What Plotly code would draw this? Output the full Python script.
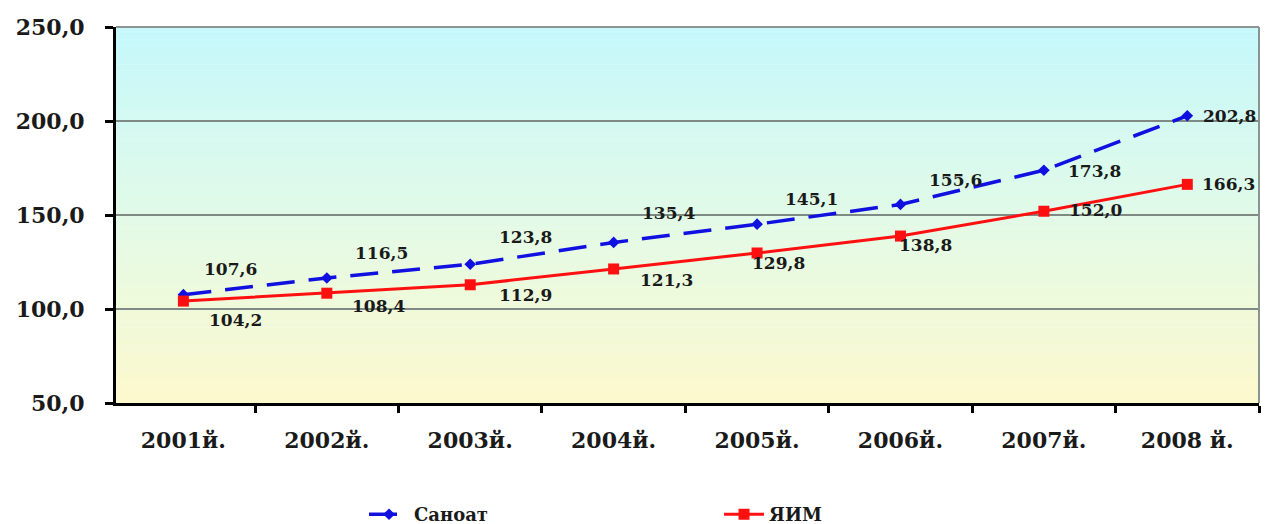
import plotly.graph_objects as go

years = ["2001й.", "2002й.", "2003й.", "2004й.", "2005й.", "2006й.", "2007й.", "2008 й."]
sanoat = [107.6, 116.5, 123.8, 135.4, 145.1, 155.6, 173.8, 202.8]
yaim = [104.2, 108.4, 112.9, 121.3, 129.8, 138.8, 152.0, 166.3]

# label offsets (px) for data labels, per point
san_off = [(47, 26), (55, 25), (55, 27), (55, 29), (54, 25), (55, 24), (51, -1), (42, 0)]
yaim_off = [(52, -19), (52, -13), (55, -10), (53, -11), (21, -10), (25, -9), (52, 1), (41, 0)]

font_family = "DejaVu Serif"

fig = go.Figure()

# gradient background of the plot area
n = 60
top = (198, 248, 252)
mid = (226, 251, 232)
bot = (253, 249, 206)
for i in range(n):
    t = i / (n - 1)
    if t < 0.5:
        a, b, f = top, mid, t / 0.5
    else:
        a, b, f = mid, bot, (t - 0.5) / 0.5
    c = tuple(int(a[k] + (b[k] - a[k]) * f) for k in range(3))
    fig.add_shape(type="rect", xref="x domain", yref="y domain",
                  x0=0, x1=1, y0=1 - (i + 1) / n, y1=1 - i / n + 0.001,
                  fillcolor="rgb(%d,%d,%d)" % c, line_width=0, layer="below")

fig.add_trace(go.Scatter(name="Саноат", x=years, y=sanoat, mode="lines+markers",
                         line=dict(color="#1010e0", width=3.5, dash="28px,14px"),
                         marker=dict(symbol="diamond", size=9, color="#1010e0")))
fig.add_trace(go.Scatter(name="ЯИМ", x=years, y=yaim, mode="lines+markers",
                         line=dict(color="#ff1010", width=3),
                         marker=dict(symbol="square", size=11, color="#ff1010")))

for vals, offs in ((sanoat, san_off), (yaim, yaim_off)):
    for x, v, (dx, dy) in zip(years, vals, offs):
        fig.add_annotation(x=x, y=v, text=f"{v:.1f}".replace(".", ","), showarrow=False,
                           xshift=dx, yshift=dy, xanchor="center", yanchor="middle",
                           font=dict(family=font_family, size=17, color="#1a1a1a", weight="bold"))

fig.update_xaxes(type="category", range=[-0.47, 7.5], showline=True, linecolor="black", linewidth=3,
                 ticks="outside", tickson="boundaries", ticklen=7, tickwidth=3, tickcolor="black",
                 showgrid=False, ticklabelstandoff=16, automargin=False,
                 tickfont=dict(family=font_family, size=22, color="#1a1a1a", weight="bold"))
fig.update_yaxes(range=[50, 250], dtick=50, tickformat=".1f", showline=True, linecolor="black",
                 linewidth=3, ticks="outside", ticklen=8, tickwidth=3, tickcolor="black",
                 showgrid=True, gridcolor="#7f8a84", gridwidth=1.5, zeroline=False,
                 ticklabelstandoff=16, automargin=False,
                 tickfont=dict(family=font_family, size=22, color="#1a1a1a", weight="bold"))

# gray border on top and right
fig.add_shape(type="line", xref="x domain", yref="y domain", x0=0, x1=1, y0=1, y1=1,
              line=dict(color="#8a9490", width=2))
fig.add_shape(type="line", xref="x domain", yref="y domain", x0=1, x1=1, y0=0, y1=1,
              line=dict(color="#8a9490", width=2))

fig.update_layout(width=1266, height=524, separators=", ",
                  margin=dict(l=116, r=7, t=27, b=121, autoexpand=False),
                  plot_bgcolor="white", paper_bgcolor="white",
                  legend=dict(orientation="h", x=0.217, xanchor="left", yref="container",
                              y=0.018, yanchor="middle", itemwidth=40,
                              entrywidth=300, entrywidthmode="pixels",
                              font=dict(family=font_family, size=18, color="#1a1a1a", weight="bold")))

fig.write_html("out.html", config={"displayModeBar": False},
               post_script="document.body.style.margin='0';")
